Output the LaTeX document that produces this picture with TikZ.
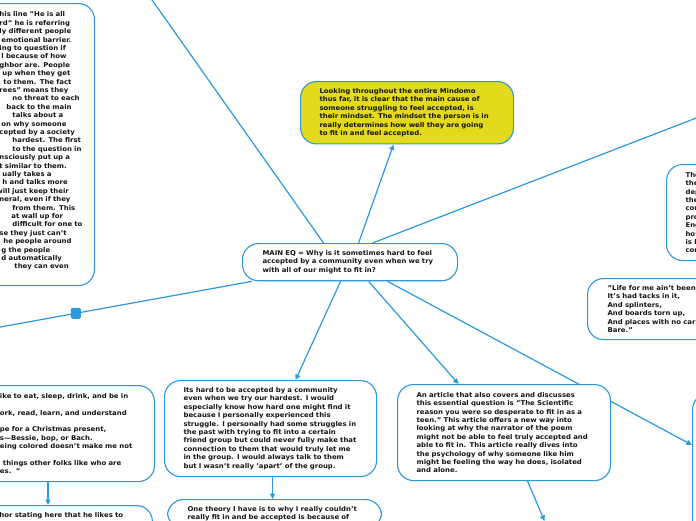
\documentclass[tikz,border=0pt]{standalone}
\usepackage{fontspec}
\setmainfont{DejaVu Sans}[FakeStretch=1.05]
\usetikzlibrary{arrows.meta,backgrounds}
\definecolor{azul}{RGB}{44,152,222}
\definecolor{amarillo}{RGB}{227,218,30}
\definecolor{tinta}{RGB}{22,22,22}

\begin{document}
\begin{tikzpicture}[x=1pt,y=-1pt,
    font=\fontsize{6.6}{8.4}\selectfont\bfseries,
    caja/.style={draw=azul,line width=1.1pt,fill=white,rounded corners=16pt,
                 text=tinta,align=left,inner ysep=7pt,
                 execute at begin node={\rightskip=-14pt plus 1fil}},
    enlace/.style={draw=azul,line width=1.2pt},
    flecha/.style={enlace,-{Triangle[length=5.5pt,width=5pt]}},
    asa/.style={fill=azul,rounded corners=1.5pt,inner sep=0pt,
                minimum width=10pt,minimum height=11pt}]

  \useasboundingbox (0,0) rectangle (696,520);
  \clip (0,0) rectangle (696,520);

  % central question
  \node[caja,anchor=north west,inner xsep=20pt,text width=175pt,minimum height=37pt]
    (main) at (242,243)
    {MAIN EQ = Why is it sometimes hard to feel\\
     accepted by a community even when we try\\
     with all of our might to fit in?};

  \node[caja,fill=amarillo,anchor=north west,inner xsep=19pt,text width=175pt,
        minimum height=61pt] (cierre) at (300,81)
    {Looking throughout the entire Mindomo\\
     thus far, it is clear that the main cause of\\
     someone struggling to feel accepted, is\\
     their mindset. The mindset the person is in\\
     really determines how well they are going\\
     to fit in and feel accepted.};

  \node[caja,anchor=north west,inner xsep=19pt,text width=174pt,minimum height=96pt]
    (personal) at (164,380)
    {Its hard to be accepted by a community\\
     even when we try our hardest. I would\\
     especially know how hard one might find it\\
     because I personally experienced this\\
     struggle. I personally had some struggles in\\
     the past with trying to fit into a certain\\
     friend group but could never fully make that\\
     connection to them that would truly let me\\
     in the group. I would always talk to them\\
     but I wasn't really 'apart' of the group.};

  \node[caja,anchor=north west,inner xsep=20pt,text width=174pt] (teoria) at (167,499)
    {One theory I have is to why I really couldn't\\
     really fit in and be accepted is because of};

  \node[caja,anchor=north west,inner xsep=19pt,text width=175pt,minimum height=96pt]
    (articulo) at (397,384)
    {An article that also covers and discusses\\
     this essential question is "The Scientific\\
     reason you were so desperate to fit in as a\\
     teen." This article offers a new way into\\
     looking at why the narrator of the poem\\
     might not be able to feel truly accepted and\\
     able to fit in. This article really dives into\\
     the psychology of why someone like him\\
     might be feeling the way he does, isolated\\
     and alone.};

  % boxes cut by the frame
  \node[caja,anchor=north east,inner xsep=8pt,text width=110pt,minimum height=282pt]
    (pasaje) at (95,3)
    {\leftskip=23pt
     his line "He is all\\
     rd" he is referring\\
     ly different people\\
     \hspace*{2pt}emotional barrier.\\
     ing to question if\\
     \hspace*{2pt}l because of how\\
     ghbor are. People\\
     \hspace*{3pt}up when they get\\
     \hspace*{4pt}to them. The fact\\
     rees" means they\\
     \hspace*{13pt}no threat to each\\
     \hspace*{7pt}back to the main\\
     \hspace*{13pt}talks about a\\
     \hspace*{2pt}on why someone\\
     cepted by a society\\
     \hspace*{13pt}hardest. The first\\
     \hspace*{13pt}to the question in\\
     nsciously put up a\\
     t similar to them.\\
     \hspace*{3pt}ually takes a\\
     \hspace*{3pt}h and talks more\\
     \hspace*{-3pt}will just keep their\\
     neral, even if they\\
     \hspace*{13pt}from them. This\\
     \hspace*{12pt}at wall up for\\
     \hspace*{13pt}difficult for one to\\
     se they just can't\\
     \hspace*{4pt}he people around\\
     \hspace*{2pt}g the people\\
     \hspace*{2pt}d automatically\\
     \hspace*{15pt}they can even\\
     \mbox{}\par};

  \node[caja,anchor=north east,inner xsep=14pt,text width=160pt,minimum height=96pt]
    (poemaA) at (155,385)
    {\leftskip=19.5pt
     ike to eat, sleep, drink, and be in\\
     \mbox{}\\
     ork, read, learn, and understand\\
     \mbox{}\\
     pe for a Christmas present,\\
     s—Bessie, bop, or Bach.\\
     eing colored doesn't make me not\\
     \mbox{}\\
     \hspace*{3pt}things other folks like who are\\
     es.~~"\par};

  \node[caja,anchor=north east,inner xsep=14pt,text width=160pt,text depth=22pt]
    (poemaB) at (153,505)
    {\leftskip=21pt hor stating here that he likes to\par};

  \node[caja,anchor=north west,inner xsep=19pt,text width=100pt,minimum height=96pt]
    (derecha) at (666,164)
    {The\\the\\dep\\the\\con\\pro\\Eng\\how\\is l\\con};

  \node[caja,anchor=north west,inner xsep=20pt,text width=150pt,minimum height=61pt]
    (verso) at (587,278)
    {"Life for me ain't been\\
     It's had tacks in it,\\
     And splinters,\\
     And boards torn up,\\
     And places with no car\\
     Bare."};

  \node[caja,anchor=north west,minimum width=120pt,minimum height=220pt]
    (lejos) at (692,393) {};

  % loose ends outside the frame
  \coordinate (arribaIzq) at (145,-10);
  \coordinate (arribaDer) at (710,112.7);
  \coordinate (izq)       at (-10,328.9);
  \coordinate (abajo)     at (544.5,521);

  \begin{scope}[on background layer]
    \draw[enlace] ([xshift=-26.5pt]main.north) -- (arribaIzq);
    \draw[enlace] ([xshift=22.5pt]main.north)  -- (arribaDer);
    \draw[enlace] ([xshift=10pt]main.south west) -- (izq)
      node[asa,pos=0.672] (asa) {};
    \draw[flecha] ([xshift=8.5pt]main.north)   -- ([xshift=-13.5pt]cierre.south);
    \draw[flecha] ([xshift=-9.5pt]main.south)  -- ([xshift=25pt]personal.north);
    \draw[flecha] ([xshift=18.5pt]main.south)  -- ([xshift=-45.5pt]articulo.north);
    \draw[flecha] ([xshift=37.5pt]main.south)  -- ([yshift=-52pt]lejos.north west);
    \draw[flecha] ([xshift=2pt]personal.south) -- ([xshift=-2pt]teoria.north);
    \draw[flecha] ([xshift=23.5pt]articulo.south) -- (abajo);
    \draw[flecha] ([xshift=-107pt]poemaA.south east) -- ([xshift=-105pt]poemaB.north east);
  \end{scope}

\end{tikzpicture}
\end{document}
